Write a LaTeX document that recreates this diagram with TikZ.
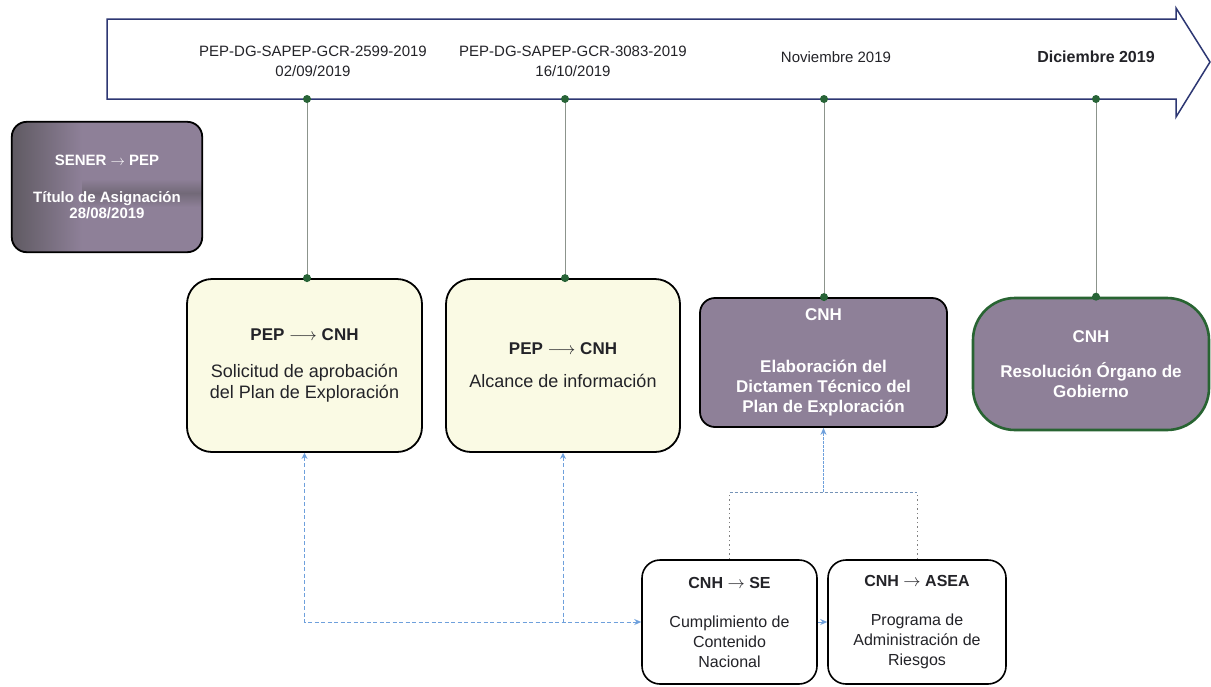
\documentclass[tikz,border=0pt]{standalone}
\usepackage{fontspec}
\setmainfont{Liberation Sans}
\usetikzlibrary{arrows.meta,calc}
\definecolor{navy}{RGB}{45,55,115}
\definecolor{dotgreen}{RGB}{40,100,55}
\definecolor{lyellow}{RGB}{250,250,228}
\definecolor{mauve}{RGB}{142,128,152}
\definecolor{darkmauve}{RGB}{95,90,98}
\definecolor{lblue}{RGB}{110,160,220}
\definecolor{vgray}{RGB}{140,148,140}
\definecolor{boxgreen}{RGB}{40,100,50}
\definecolor{txt}{RGB}{35,35,40}
\tikzset{
  tl/.style={align=center, text=txt, font=\fontsize{15}{20}\selectfont},
  ybox/.style={draw=black, line width=1.8pt, fill=lyellow, rounded corners=25pt, align=center,
    inner sep=0pt, text=txt, font=\fontsize{18}{21}\selectfont},
  pbox/.style={draw=black, line width=1.8pt, fill=mauve, rounded corners=15pt, align=center,
    inner sep=0pt, text=white, font=\bfseries\fontsize{17}{20}\selectfont},
  wbox/.style={draw=black, line width=1.6pt, fill=white, rounded corners=18pt, align=center,
    inner sep=0pt, text=txt, font=\fontsize{16}{20}\selectfont},
  vline/.style={draw=vgray, line width=0.8pt},
  gdot/.style={fill=dotgreen, draw=none},
  bdash/.style={draw=lblue, line width=1pt, dash pattern=on 4pt off 2.5pt},
  bline/.style={draw=lblue, line width=1pt},
  grdot/.style={draw=gray, line width=0.8pt, dash pattern=on 1.5pt off 3pt},
  btip/.style={-{Stealth[length=7pt,width=6pt]}},
}
\begin{document}
\begin{tikzpicture}[x=1pt,y=-1pt]
\useasboundingbox (0,0) rectangle (1211,686);
\fill[white] (0,0) rectangle (1211,686);

% timeline arrow
\draw[navy, line width=1.5pt, line join=miter]
  (107,19) -- (1176,19) -- (1176,8) -- (1210,62) -- (1176,117) -- (1176,99) -- (107,99) -- cycle;

\coordinate (d1) at (307,99);
\coordinate (d2) at (565,99);
\coordinate (d3) at (824,99);
\coordinate (d4) at (1096,99);

% labels
\node[tl] (l1) at (313,61) {PEP-DG-SAPEP-GCR-2599-2019\\02/09/2019};
\node[tl] (l2) at (573,61) {PEP-DG-SAPEP-GCR-3083-2019\\16/10/2019};
\node[tl] (l3) at (836,57) {Noviembre 2019};
\node[tl, font=\bfseries\fontsize{16}{20}\selectfont] (l4) at (1096,57) {Diciembre 2019};

% SENER box
\node[draw=none, minimum width=190pt, minimum height=130pt, inner sep=0pt] (s) at (107,187) {};
\begin{scope}
  \clip[rounded corners=15pt] (s.south west) rectangle (s.north east);
  \fill[mauve] (s.south west) rectangle (s.north east);
  \shade[top color=mauve, bottom color=darkmauve!60!mauve] ($(s.west)+(0,-8)$) rectangle ($(s.east)+(0,6)$);
  \shade[top color=darkmauve!60!mauve, bottom color=mauve] ($(s.west)+(0,6)$) rectangle ($(s.east)+(0,20)$);
  \shade[left color=darkmauve, right color=mauve] (s.north west) rectangle ($(s.south west)+(70,0)$);
\end{scope}
\draw[black, line width=1.8pt, rounded corners=15pt] (s.south west) rectangle (s.north east);
\node[align=center, text=white, font=\bfseries\fontsize{15}{16}\selectfont] (st) at (107,187)
  {SENER $\rightarrow$ PEP\\[21pt]Título de Asignación\\28/08/2019};

% main boxes
\node[ybox, minimum width=235pt, minimum height=173pt] (b1) at (304.5,365.5)
  {{\bfseries\fontsize{17}{21}\selectfont PEP $\longrightarrow$ CNH}\\[16pt]Solicitud de aprobación\\del Plan de Exploración};
\node[ybox, minimum width=234pt, minimum height=173pt] (b2) at (563,365.5)
  {{\bfseries\fontsize{17}{21}\selectfont PEP $\longrightarrow$ CNH}\\[12pt]Alcance de información};
\node[pbox, minimum width=247pt, minimum height=129pt] (b3) at (823.5,362.5)
  {CNH\\[32pt]Elaboración del\\Dictamen Técnico del\\Plan de Exploración};
\node[pbox, draw=boxgreen, line width=2.6pt, rounded corners=42pt, minimum width=236pt, minimum height=132pt] (b4) at (1091,364)
  {CNH\\[15pt]Resolución Órgano de\\Gobierno};

\node[wbox, minimum width=175pt, minimum height=124pt] (se) at (729.5,622)
  {{\bfseries CNH $\rightarrow$ SE}\\[19pt]Cumplimiento de\\Contenido\\Nacional};
\node[wbox, minimum width=178pt, minimum height=124pt] (asea) at (917,622)
  {{\bfseries CNH $\rightarrow$ ASEA}\\[19pt]Programa de\\Administración de\\Riesgos};

% timeline drops
\foreach \d/\b in {d1/b1, d2/b2, d3/b3, d4/b4}{
  \draw[vline] (\d) -- (\d |- \b.north);
  \fill[gdot] (\d) circle (4pt);
  \fill[gdot] (\d |- \b.north) circle (4pt);
}

% blue dashed connectors
\draw[bdash, {Stealth[length=6pt,width=6pt]}-{Stealth[length=7pt,width=6pt]}] (b1.south) |- (se.west);
\draw[bdash, {Stealth[length=6pt,width=6pt]}-] (b2.south) -- (b2.south |- se.west);
\draw[bline, btip] (se.east) -- (asea.west);

% dotted gray connectors to CNH box
\coordinate (m) at (b3.south |- 0,492);
\draw[grdot] (se.north) -- (se.north |- m);
\draw[grdot] (asea.north) -- (asea.north |- m);
\draw[draw=lblue!60!gray, line width=0.8pt, dash pattern=on 3pt off 2pt] (se.north |- m) -- (asea.north |- m);
\draw[bline, btip, dash pattern=on 3pt off 1pt] (m) -- (b3.south);
\end{tikzpicture}
\end{document}
